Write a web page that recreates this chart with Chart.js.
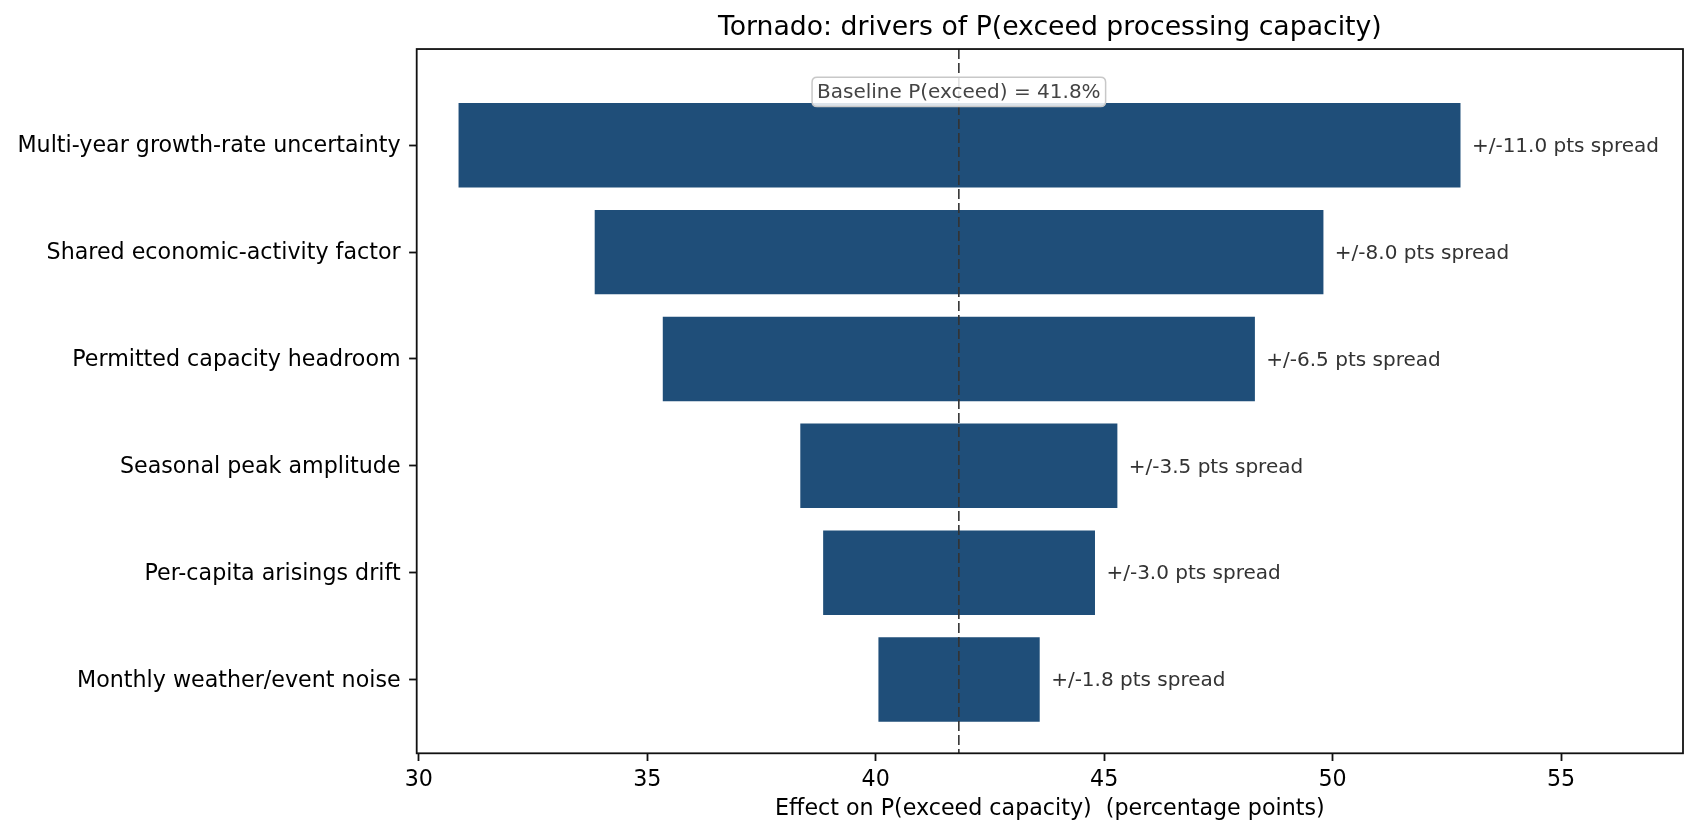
<!DOCTYPE html>
<html>
<head>
<meta charset="utf-8">
<script src="https://cdn.jsdelivr.net/npm/chart.js@4.4.1/dist/chart.umd.min.js"></script>
<style>
  html, body { margin: 0; padding: 0; background: #ffffff; }
  #wrap { width: 1698px; height: 834px; }
</style>
</head>
<body>
<div id="wrap"><canvas id="c" width="1698" height="834"></canvas></div>
<script>
// ---- data ----
const categories = [
  "Multi-year growth-rate uncertainty",
  "Shared economic-activity factor",
  "Permitted capacity headroom",
  "Seasonal peak amplitude",
  "Per-capita arisings drift",
  "Monthly weather/event noise"
];
const lows    = [30.87, 33.85, 35.34, 38.35, 38.85, 40.06];
const highs   = [52.80, 49.80, 48.30, 45.29, 44.80, 43.59];
const spreads = [11.0, 8.0, 6.5, 3.5, 3.0, 1.8];
const baseline = 41.82;
const xTicks = [30, 35, 40, 45, 50, 55];

const FONT = "'DejaVu Sans', 'Liberation Sans', sans-serif";

const barData = categories.map((c, i) => ({ x: [lows[i], highs[i]], y: i }));

const overlay = {
  id: 'overlay',
  afterDatasetsDraw(chart) {
    const { ctx, chartArea: a, scales: { x, y } } = chart;
    const bx = x.getPixelForValue(baseline);
    // dashed baseline
    ctx.save();
    ctx.beginPath();
    ctx.rect(a.left, a.top, a.right - a.left, a.bottom - a.top);
    ctx.clip();
    ctx.strokeStyle = '#333333';
    ctx.lineWidth = 1.6;
    ctx.setLineDash([10, 4]);
    ctx.beginPath();
    ctx.moveTo(bx, a.top);
    ctx.lineTo(bx, a.bottom);
    ctx.stroke();
    ctx.restore();

    // value labels
    ctx.save();
    ctx.font = `20px ${FONT}`;
    ctx.fillStyle = '#333333';
    ctx.textAlign = 'left';
    ctx.textBaseline = 'middle';
    categories.forEach((c, i) => {
      const px = x.getPixelForValue(highs[i] + 0.25);
      const py = y.getPixelForValue(i);
      ctx.fillText(`+/-${spreads[i].toFixed(1)} pts spread`, px, py + 1.5);
    });
    ctx.restore();

    // baseline annotation box
    ctx.save();
    const txt = `Baseline P(exceed) = ${baseline.toFixed(1)}%`;
    ctx.font = `20px ${FONT}`;
    const w = ctx.measureText(txt).width + 10;
    const h = 29.3;
    const cy = y.getPixelForValue(-0.5);
    const left = bx - w / 2, top = cy - h / 2, r = 5;
    ctx.beginPath();
    ctx.moveTo(left + r, top);
    ctx.lineTo(left + w - r, top);
    ctx.quadraticCurveTo(left + w, top, left + w, top + r);
    ctx.lineTo(left + w, top + h - r);
    ctx.quadraticCurveTo(left + w, top + h, left + w - r, top + h);
    ctx.lineTo(left + r, top + h);
    ctx.quadraticCurveTo(left, top + h, left, top + h - r);
    ctx.lineTo(left, top + r);
    ctx.quadraticCurveTo(left, top, left + r, top);
    ctx.closePath();
    ctx.fillStyle = 'rgba(255,255,255,0.85)';
    ctx.fill();
    ctx.strokeStyle = '#c8c8c8';
    ctx.lineWidth = 1.5;
    ctx.stroke();
    ctx.fillStyle = '#444444';
    ctx.textAlign = 'center';
    ctx.textBaseline = 'middle';
    ctx.fillText(txt, bx, cy + 1.5);
    ctx.restore();
  },
  afterDraw(chart) {
    const { ctx, chartArea: a } = chart;
    ctx.save();
    ctx.strokeStyle = '#111111';
    ctx.lineWidth = 1.8;
    ctx.strokeRect(a.left, a.top, a.right - a.left, a.bottom - a.top);
    ctx.restore();
  }
};

new Chart(document.getElementById('c'), {
  type: 'bar',
  data: {
    datasets: [{
      data: barData,
      backgroundColor: '#1f4e79',
      borderWidth: 0,
      categoryPercentage: 1.0,
      barPercentage: 0.79
    }]
  },
  options: {
    indexAxis: 'y',
    responsive: false,
    animation: false,
    devicePixelRatio: 1,
    layout: { padding: { top: 0, left: 0, right: 15, bottom: 0 } },
    plugins: {
      legend: { display: false },
      tooltip: { enabled: false },
      title: {
        display: true,
        fullSize: false,
        text: 'Tornado: drivers of P(exceed processing capacity)',
        color: '#000000',
        font: { family: FONT, size: 26.7, weight: 'normal', lineHeight: 1.2 },
        padding: { top: 12, bottom: 5 }
      }
    },
    scales: {
      x: {
        type: 'linear',
        min: 29.954,
        max: 57.67,
        afterBuildTicks(scale) { scale.ticks = xTicks.map(v => ({ value: v })); },
        afterFit(scale) { scale.height = 80.7; },
        grid: { drawOnChartArea: false, drawTicks: true, tickLength: 7.7, tickColor: '#111111', tickWidth: 1.8, color: '#111111' },
        border: { display: false },
        ticks: { color: '#000000', font: { family: FONT, size: 22.2 }, padding: 5.8, maxRotation: 0, autoSkip: false },
        title: {
          display: true,
          text: 'Effect on P(exceed capacity)  (percentage points)',
          color: '#000000',
          font: { family: FONT, size: 22.2, lineHeight: 1.2 },
          padding: { top: 0, bottom: 11.5 }
        }
      },
      y: {
        type: 'linear',
        reverse: true,
        min: -0.9,
        max: 5.69,
        offset: false,
        afterBuildTicks(scale) { scale.ticks = categories.map((c, i) => ({ value: i })); },
        afterFit(scale) { scale.width = 416.7; },
        grid: { offset: false, drawOnChartArea: false, drawTicks: true, tickLength: 7.6, tickColor: '#111111', tickWidth: 1.8, color: '#111111' },
        border: { display: false },
        ticks: {
          color: '#000000',
          font: { family: FONT, size: 22.2 },
          padding: 8.5,
          labelOffset: 1.5,
          autoSkip: false,
          callback: (v) => categories[v]
        }
      }
    }
  },
  plugins: [overlay]
});
</script>
</body>
</html>
